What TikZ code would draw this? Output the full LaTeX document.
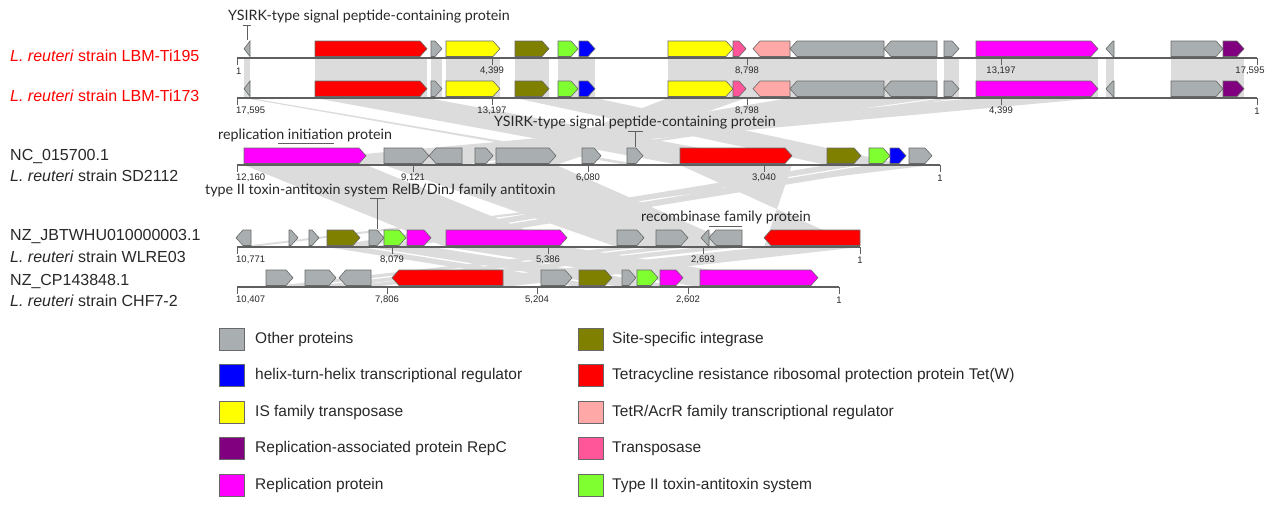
\documentclass[tikz,border=0pt]{standalone}
\usepackage{fontspec}
\setmainfont{Liberation Sans}
\newfontfamily\latofont{Lato}
\definecolor{oth}{RGB}{169,175,177}
\definecolor{hth}{RGB}{0,0,255}
\definecolor{isf}{RGB}{255,255,0}
\definecolor{repc}{RGB}{128,0,128}
\definecolor{rep}{RGB}{255,0,255}
\definecolor{ssi}{RGB}{128,128,0}
\definecolor{tetw}{RGB}{255,0,0}
\definecolor{tetr}{RGB}{255,168,168}
\definecolor{tpase}{RGB}{255,85,153}
\definecolor{ta}{RGB}{128,255,48}
\definecolor{bandc}{RGB}{220,220,220}
\definecolor{edgec}{RGB}{105,105,105}
\definecolor{axisc}{RGB}{95,95,95}
\definecolor{txtc}{RGB}{40,40,40}
\newcommand{\gR}[4]{\pgfmathsetmacro{\gh}{min(7,(#2)-(#1))}%
  \filldraw[gene,fill=#4] (#1,#3-1.5) -- (#1,#3-17) -- ({#2-\gh},#3-17) -- (#2,#3-9.25) -- ({#2-\gh},#3-1.5) -- cycle;}
\newcommand{\gL}[4]{\pgfmathsetmacro{\gh}{min(7,(#2)-(#1))}%
  \filldraw[gene,fill=#4] (#2,#3-1.5) -- (#2,#3-17) -- ({#1+\gh},#3-17) -- (#1,#3-9.25) -- ({#1+\gh},#3-1.5) -- cycle;}
\newcommand{\bd}[6]{\fill[bandc] (#1,#3) -- (#2,#3) -- (#5,#6) -- (#4,#6) -- cycle;}
\newcommand{\ltiGenes}[1]{%
  \gL{244}{250}{#1}{oth}
  \gR{315}{427}{#1}{tetw}
  \gR{431}{442}{#1}{oth}
  \gR{446}{500}{#1}{isf}
  \gR{515}{549}{#1}{ssi}
  \gR{558}{578}{#1}{ta}
  \gR{579}{595}{#1}{hth}
  \gR{668}{733}{#1}{isf}
  \gR{733}{746}{#1}{tpase}
  \gL{753}{790}{#1}{tetr}
  \gL{790}{884}{#1}{oth}
  \gL{884}{937}{#1}{oth}
  \gR{944}{959}{#1}{oth}
  \gR{976}{1098}{#1}{rep}
  \gL{1106}{1114}{#1}{oth}
  \gR{1171}{1223}{#1}{oth}
  \gR{1223}{1244}{#1}{repc}}
\begin{document}
\begin{tikzpicture}[x=1pt,y=-1pt,
  gene/.style={draw=edgec,line width=0.6pt,line join=miter},
  axisl/.style={draw=axisc,line width=1.2pt},
  tickl/.style={draw=axisc,line width=1pt},
  ticklab/.style={font=\fontsize{9.5}{11}\selectfont,text=txtc,inner sep=0pt},
  lab/.style={font=\fontsize{16}{19}\selectfont,anchor=west,inner sep=0pt},
  annot/.style={font=\latofont\fontsize{14.3}{17}\selectfont,text=txtc,anchor=west,inner sep=0pt},
  lead/.style={draw=axisc,line width=0.8pt},
  legbox/.style={draw=edgec,line width=0.9pt,minimum width=25pt,minimum height=22pt,inner sep=0pt},
  legtxt/.style={font=\fontsize{15.5}{18}\selectfont,text=txtc,anchor=west,inner sep=0pt}]
\useasboundingbox (0,0) rectangle (1275,506);
\fill[white] (0,0) rectangle (1275,506);
% ---------- similarity bands ----------
\foreach \a/\b in {244/250,315/427,431/442,446/500,515/549,558/595,668/937,944/959,976/1098,1106/1114,1171/1244}
  {\bd{\a}{\b}{58}{\a}{\b}{98}}
\foreach \a/\b/\c/\d in {244/250/627/643,315/427/680/792,515/595/827/906,976/1098/244/366,790/937/384/462,944/959/475/493,668/746/496/556}
  {\bd{\a}{\b}{98}{\c}{\d}{165}}
\foreach \a/\b/\c/\d in {244/366/446/567,384/556/617/742,827/861/327/360,869/906/369/406,909/932/236/251,680/792/860/764}
  {\bd{\a}{\b}{165}{\c}{\d}{247}}
\foreach \a/\b/\c/\d in {327/360/579/612,369/431/622/683,446/567/700/818,764/860/392/503,617/644/266/293,656/688/305/336,701/742/339/371}
  {\bd{\a}{\b}{247}{\c}{\d}{287}}
% ---------- axes ----------
\draw[axisl] (237,58) -- (1257,58);
\draw[axisl] (237,98) -- (1257,98);
\draw[axisl] (237,165) -- (940,165);
\draw[axisl] (237,247) -- (860,247);
\draw[axisl] (237,287) -- (839,287);
\foreach \x in {237,492,747,1001,1257} {\draw[tickl] (\x,58) -- (\x,65); \draw[tickl] (\x,98) -- (\x,105);}
\foreach \x in {237,413,588,764,940} {\draw[tickl] (\x,165) -- (\x,172);}
\foreach \x in {237,392,548,703,860} {\draw[tickl] (\x,247) -- (\x,254);}
\foreach \x in {237,387,537,688,839} {\draw[tickl] (\x,287) -- (\x,294);}
% tick labels
\node[ticklab,anchor=west] (k11) at (236,71) {1};
\node[ticklab] (k12) at (492,71) {4,399};
\node[ticklab] (k13) at (747,71) {8,798};
\node[ticklab] (k14) at (1001,71) {13,197};
\node[ticklab] (k15) at (1250,71) {17,595};
\node[ticklab,anchor=west] (k21) at (236,111) {17,595};
\node[ticklab] (k22) at (492,111) {13,197};
\node[ticklab] (k23) at (747,111) {8,798};
\node[ticklab] (k24) at (1001,111) {4,399};
\node[ticklab] (k25) at (1257,111) {1};
\node[ticklab,anchor=west] (k31) at (236,178) {12,160};
\node[ticklab] (k32) at (413,178) {9,121};
\node[ticklab] (k33) at (588,178) {6,080};
\node[ticklab] (k34) at (764,178) {3,040};
\node[ticklab] (k35) at (940,178) {1};
\node[ticklab,anchor=west] (k41) at (236,260) {10,771};
\node[ticklab] (k42) at (392,260) {8,079};
\node[ticklab] (k43) at (548,260) {5,386};
\node[ticklab] (k44) at (703,260) {2,693};
\node[ticklab] (k45) at (860,260) {1};
\node[ticklab,anchor=west] (k51) at (236,300) {10,407};
\node[ticklab] (k52) at (387,300) {7,806};
\node[ticklab] (k53) at (537,300) {5,204};
\node[ticklab] (k54) at (688,300) {2,602};
\node[ticklab] (k55) at (839,300) {1};
% ---------- genes ----------
\ltiGenes{58}
\ltiGenes{98}
\gR{244}{366}{165}{rep}
\gR{384}{429}{165}{oth}
\gL{429}{462}{165}{oth}
\gR{475}{493}{165}{oth}
\gR{496}{556}{165}{oth}
\gR{582}{601}{165}{oth}
\gR{627}{643}{165}{oth}
\gR{680}{792}{165}{tetw}
\gR{827}{861}{165}{ssi}
\gR{869}{890}{165}{ta}
\gR{890}{906}{165}{hth}
\gR{909}{932}{165}{oth}
\gL{236}{251}{247}{oth}
\gR{289}{298}{247}{oth}
\gR{309}{319}{247}{oth}
\gR{327}{360}{247}{ssi}
\gR{369}{384}{247}{oth}
\gR{384}{406}{247}{ta}
\gR{407}{431}{247}{rep}
\gR{446}{567}{247}{rep}
\gR{617}{644}{247}{oth}
\gR{656}{688}{247}{oth}
\gL{701}{709}{247}{oth}
\gL{709}{742}{247}{oth}
\gL{764}{860}{247}{tetw}
\gR{266}{293}{287}{oth}
\gR{305}{336}{287}{oth}
\gL{339}{371}{287}{oth}
\gL{392}{503}{287}{tetw}
\gR{541}{572}{287}{oth}
\gR{579}{612}{287}{ssi}
\gR{622}{636}{287}{oth}
\gR{637}{658}{287}{ta}
\gR{660}{683}{287}{rep}
\gR{700}{818}{287}{rep}
% ---------- annotations ----------
\node[annot] (a1) at (228,17) {YSIRK-type signal peptide-containing protein};
\node[annot] (a2) at (218,135) {replication initiation protein};
\node[annot] (a3) at (494,123) {YSIRK-type signal peptide-containing protein};
\node[annot] (a4) at (205,190) {type II toxin-antitoxin system RelB/DinJ family antitoxin};
\node[annot] (a5) at (641,217) {recombinase family protein};
\coordinate (l1a) at (247,25); \coordinate (l1b) at (247,40);
\draw[lead] (243,25) -- (251,25); \draw[lead] (l1a) -- (l1b);
\draw[lead] (278,143) -- (334,143);
\coordinate (l3a) at (635,131); \coordinate (l3b) at (635,147);
\draw[lead] (628,131) -- (643,131); \draw[lead] (l3a) -- (l3b);
\coordinate (l4a) at (377,198); \coordinate (l4b) at (377,229);
\draw[lead] (370,198) -- (385,198); \draw[lead] (l4a) -- (l4b);
\draw[lead] (709,226) -- (742,226);
% ---------- track labels ----------
\node[lab,text=tetw] (t1) at (10,56) {\textit{L. reuteri} strain LBM-Ti195};
\node[lab,text=tetw] (t2) at (10,96) {\textit{L. reuteri} strain LBM-Ti173};
\node[lab,text=txtc] (t3a) at (10,157) {NC\_015700.1};
\node[lab,text=txtc] (t3b) at (10,176) {\textit{L. reuteri} strain SD2112};
\node[lab,text=txtc] (t4a) at (10,237) {NZ\_JBTWHU010000003.1};
\node[lab,text=txtc] (t4b) at (10,257) {\textit{L. reuteri} strain WLRE03};
\node[lab,text=txtc] (t5a) at (10,282) {NZ\_CP143848.1};
\node[lab,text=txtc] (t5b) at (10,301) {\textit{L. reuteri} strain CHF7-2};
% ---------- legend ----------
\node[legbox,fill=oth] (b1) at (231.5,339) {};
\node[legtxt] (c1) at (255,339) {Other proteins};
\node[legbox,fill=hth] (b2) at (231.5,375.5) {};
\node[legtxt] (c2) at (255,375.5) {helix-turn-helix transcriptional regulator};
\node[legbox,fill=isf] (b3) at (231.5,412) {};
\node[legtxt] (c3) at (255,412) {IS family transposase};
\node[legbox,fill=repc] (b4) at (231.5,448.5) {};
\node[legtxt] (c4) at (255,448.5) {Replication-associated protein RepC};
\node[legbox,fill=rep] (b5) at (231.5,485) {};
\node[legtxt] (c5) at (255,485) {Replication protein};
\node[legbox,fill=ssi] (b6) at (590.5,339) {};
\node[legtxt] (c6) at (612,339) {Site-specific integrase};
\node[legbox,fill=tetw] (b7) at (590.5,375.5) {};
\node[legtxt] (c7) at (612,375.5) {Tetracycline resistance ribosomal protection protein Tet(W)};
\node[legbox,fill=tetr] (b8) at (590.5,412) {};
\node[legtxt] (c8) at (612,412) {TetR/AcrR family transcriptional regulator};
\node[legbox,fill=tpase] (b9) at (590.5,448.5) {};
\node[legtxt] (c9) at (612,448.5) {Transposase};
\node[legbox,fill=ta] (b10) at (590.5,485) {};
\node[legtxt] (c10) at (612,485) {Type II toxin-antitoxin system};
\end{tikzpicture}
\end{document}
